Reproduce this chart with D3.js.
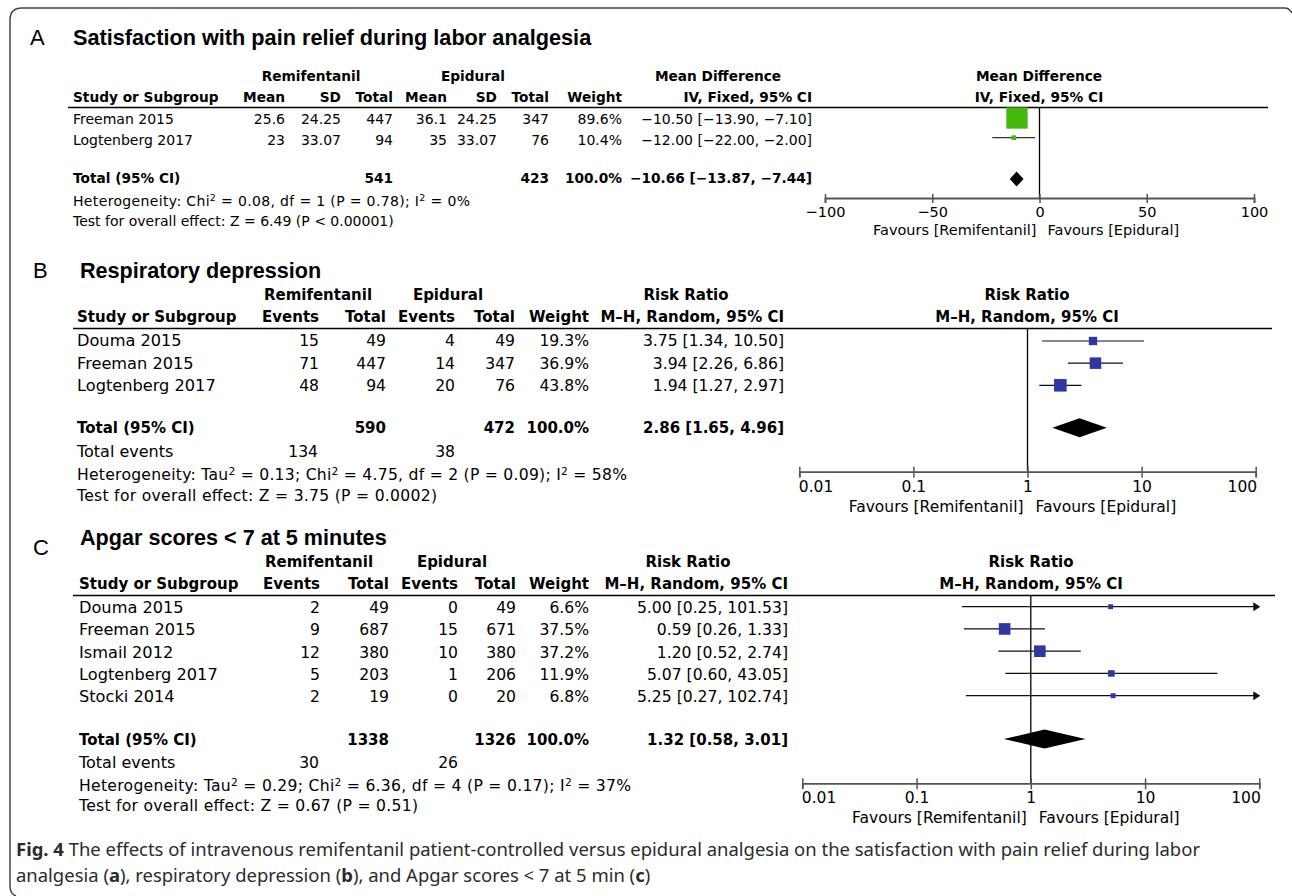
<!DOCTYPE html>
<html><head><meta charset="utf-8">
<script src="https://cdn.jsdelivr.net/npm/d3@7"></script>
<style>body{margin:0;background:#fff} svg{display:block}</style>
</head><body>
<svg id="c" width="1292" height="896"></svg>
<script>
// ---------------- DATA ----------------
// Panel A: Satisfaction with pain relief (Mean Difference, IV, Fixed)
const studiesA = ["Freeman 2015", "Logtenberg 2017"];
const remiMeanA = ["25.6", "23"];
const remiSDA = ["24.25", "33.07"];
const remiTotalA = [447, 94];
const epiMeanA = ["36.1", "35"];
const epiSDA = ["24.25", "33.07"];
const epiTotalA = [347, 76];
const weightA = [89.6, 10.4];
const estA = [-10.50, -12.00];
const lowA = [-13.90, -22.00];
const highA = [-7.10, -2.00];
const totalA = {remi: 541, epi: 423, weight: 100.0, est: -10.66, low: -13.87, high: -7.44};
const heteroA = "Heterogeneity: Chi^2 = 0.08, df = 1 (P = 0.78); I^2 = 0%";
const testA = "Test for overall effect: Z = 6.49 (P < 0.00001)";
const ticksA = [-100, -50, 0, 50, 100];

// Panel B: Respiratory depression (Risk Ratio, M-H, Random)
const studiesB = ["Douma 2015", "Freeman 2015", "Logtenberg 2017"];
const remiEventsB = [15, 71, 48];
const remiTotalB = [49, 447, 94];
const epiEventsB = [4, 14, 20];
const epiTotalB = [49, 347, 76];
const weightB = [19.3, 36.9, 43.8];
const estB = [3.75, 3.94, 1.94];
const lowB = [1.34, 2.26, 1.27];
const highB = [10.50, 6.86, 2.97];
const totalB = {remi: 590, epi: 472, weight: 100.0, est: 2.86, low: 1.65, high: 4.96, remiEv: 134, epiEv: 38};
const heteroB = "Heterogeneity: Tau^2 = 0.13; Chi^2 = 4.75, df = 2 (P = 0.09); I^2 = 58%";
const testB = "Test for overall effect: Z = 3.75 (P = 0.0002)";

// Panel C: Apgar scores < 7 at 5 minutes (Risk Ratio, M-H, Random)
const studiesC = ["Douma 2015", "Freeman 2015", "Ismail 2012", "Logtenberg 2017", "Stocki 2014"];
const remiEventsC = [2, 9, 12, 5, 2];
const remiTotalC = [49, 687, 380, 203, 19];
const epiEventsC = [0, 15, 10, 1, 0];
const epiTotalC = [49, 671, 380, 206, 20];
const weightC = [6.6, 37.5, 37.2, 11.9, 6.8];
const estC = [5.00, 0.59, 1.20, 5.07, 5.25];
const lowC = [0.25, 0.26, 0.52, 0.60, 0.27];
const highC = [101.53, 1.33, 2.74, 43.05, 102.74];
const totalC = {remi: 1338, epi: 1326, weight: 100.0, est: 1.32, low: 0.58, high: 3.01, remiEv: 30, epiEv: 26};
const heteroC = "Heterogeneity: Tau^2 = 0.29; Chi^2 = 6.36, df = 4 (P = 0.17); I^2 = 37%";
const testC = "Test for overall effect: Z = 0.67 (P = 0.51)";

const ticksRR = [0.01, 0.1, 1, 10, 100];
const tickLabelsRR = ["0.01", "0.1", "1", "10", "100"];

// ---------------- HELPERS ----------------
const svg = d3.select("#c");
const FONT = "'DejaVu Sans', Verdana, sans-serif";
const TFONT = "'Liberation Sans', Arial, sans-serif";
const fmt2 = v => (v < 0 ? "\u2212" : "") + Math.abs(v).toFixed(2);
const ciStr = (e, l, h) => `${fmt2(e)} [${fmt2(l)}, ${fmt2(h)}]`;
const pct = w => w.toFixed(1) + "%";

function T(g, x, y, s, anchor = "start", bold = false, size = null) {
  const t = g.append("text").attr("x", x).attr("y", y).attr("text-anchor", anchor)
    .attr("font-weight", bold ? "bold" : "normal").text(s);
  if (size) t.attr("font-size", size);
  return t;
}
function rich(g, x, y, str, size) {
  const t = g.append("text").attr("x", x).attr("y", y).attr("font-size", size);
  const parts = str.split(/\^(\d)/);
  let pending = 0;
  parts.forEach((p, i) => {
    if (i % 2 === 1) {
      t.append("tspan").attr("dy", -5 + pending).attr("font-size", "68%").text(p);
      pending = 5;
    } else if (p.length) {
      t.append("tspan").attr("dy", pending).text(p);
      pending = 0;
    }
  });
  return t;
}

// ---------------- FRAME ----------------
svg.append("path")
  .attr("d", "M16,896 Q10,894 10,886 L10,20 Q10,8 22,8 L1285,8 Q1289,8 1292,13")
  .attr("fill", "none").attr("stroke", "#444").attr("stroke-width", 1.5);

// ---------------- PANEL A ----------------
(function () {
  svg.append("text").attr("x", 30).attr("y", 45).attr("font-family", TFONT)
    .attr("font-size", 22).text("A");
  svg.append("text").attr("x", 73).attr("y", 45).attr("font-family", TFONT)
    .attr("font-size", 21.7).attr("font-weight", "bold")
    .text("Satisfaction with pain relief during labor analgesia");

  const R = 14.0; // regular text size
  const g = svg.append("g").attr("font-family", FONT).attr("font-size", 13.7).attr("fill", "#000");
  const cols = [285, 341, 393, 447, 497, 549, 622, 812];
  T(g, 311, 81, "Remifentanil", "middle", true);
  T(g, 473, 81, "Epidural", "middle", true);
  T(g, 718, 81, "Mean Difference", "middle", true);
  T(g, 1039, 81, "Mean Difference", "middle", true);
  T(g, 73, 102, "Study or Subgroup", "start", true);
  ["Mean", "SD", "Total", "Mean", "SD", "Total", "Weight", "IV, Fixed, 95% CI"]
    .forEach((h, i) => T(g, cols[i], 102, h, "end", true));
  T(g, 1039, 102, "IV, Fixed, 95% CI", "middle", true);

  svg.append("line").attr("x1", 68).attr("x2", 1268).attr("y1", 107.5).attr("y2", 107.5)
    .attr("stroke", "#000").attr("stroke-width", 1.3);

  const yText = d3.scaleLinear().domain([0, 1]).range([124, 145]);
  studiesA.forEach((s, i) => {
    const y = yText(i);
    T(g, 73, y, s, "start", false, R);
    const vals = [remiMeanA[i], remiSDA[i], remiTotalA[i], epiMeanA[i], epiSDA[i], epiTotalA[i],
      pct(weightA[i]), ciStr(estA[i], lowA[i], highA[i])];
    vals.forEach((v, j) => T(g, cols[j], y, v, "end", false, R));
  });
  T(g, 73, 183, "Total (95% CI)", "start", true);
  T(g, cols[2], 183, totalA.remi, "end", true);
  T(g, cols[5], 183, totalA.epi, "end", true);
  T(g, cols[6], 183, pct(totalA.weight), "end", true);
  T(g, cols[7], 183, ciStr(totalA.est, totalA.low, totalA.high), "end", true);
  rich(g, 73, 206, heteroA, R).attr("textLength", 397).attr("lengthAdjust", "spacing");
  T(g, 73, 226, testA, "start", false, R);

  // plot
  const x = d3.scaleLinear().domain([-100, 100]).range([825, 1254]);
  const axisY = 198;
  const size = d3.scalePow().exponent(0.7).domain([0, 100]).range([0, 23]);
  const yMark = d3.scaleLinear().domain([0, 1]).range([118, 137.7]);
  const p = svg.append("g");
  p.append("line").attr("x1", x(0)).attr("x2", x(0)).attr("y1", 107.5).attr("y2", axisY)
    .attr("stroke", "#000").attr("stroke-width", 1.3);
  studiesA.forEach((s, i) => {
    const y = yMark(i), sz = size(weightA[i]);
    p.append("line").attr("x1", x(lowA[i])).attr("x2", x(highA[i])).attr("y1", y).attr("y2", y)
      .attr("stroke", "#333").attr("stroke-width", 1.2);
    p.append("rect").attr("x", x(estA[i]) - sz / 2).attr("y", y - sz / 2)
      .attr("width", sz).attr("height", sz).attr("fill", "#47b80e");
  });
  const dc = 179, dh = 7.5;
  p.append("polygon").attr("points", [
    [x(totalA.low), dc], [x(totalA.est), dc - dh], [x(totalA.high), dc], [x(totalA.est), dc + dh]
  ].map(d => d.join(",")).join(" ")).attr("fill", "#000");

  const ax = p.append("g").attr("transform", `translate(0,${axisY})`)
    .call(d3.axisBottom(x).tickValues(ticksA).tickSizeOuter(0).tickSize(5)
      .tickFormat(d => d < 0 ? "\u2212" + (-d) : String(d)));
  ax.select(".domain").attr("stroke", "#555").attr("stroke-width", 1.8);
  ax.selectAll(".tick line").attr("y1", -4).attr("y2", 5).attr("stroke", "#555").attr("stroke-width", 1.5);
  ax.selectAll(".tick text").attr("y", 19).attr("dy", 0).attr("font-family", FONT)
    .attr("font-size", 14.5).attr("fill", "#000");
  p.append("text").attr("x", x(0) - 3).attr("y", 235).attr("text-anchor", "end")
    .attr("font-family", FONT).attr("font-size", 14.5).text("Favours [Remifentanil]");
  p.append("text").attr("x", x(0) + 8).attr("y", 235).attr("text-anchor", "start")
    .attr("font-family", FONT).attr("font-size", 14.5).text("Favours [Epidural]");
})();

// ---------------- PANELS B & C (Risk Ratio) ----------------
function rrPanel(cfg, d) {
  svg.append("text").attr("x", 33).attr("y", cfg.letterY).attr("font-family", TFONT)
    .attr("font-size", 22).text(cfg.letter);
  svg.append("text").attr("x", 80).attr("y", cfg.titleY).attr("font-family", TFONT)
    .attr("font-size", 21.6).attr("font-weight", "bold").text(cfg.title);

  const R = 15.6; // regular text size
  const g = svg.append("g").attr("font-family", FONT).attr("font-size", 15).attr("fill", "#000");
  const c = cfg.cols;
  T(g, cfg.h1x[0], cfg.h1Y, "Remifentanil", "middle", true);
  T(g, cfg.h1x[1], cfg.h1Y, "Epidural", "middle", true);
  T(g, cfg.h1x[2], cfg.h1Y, "Risk Ratio", "middle", true);
  T(g, cfg.plotCx, cfg.h1Y, "Risk Ratio", "middle", true);
  T(g, cfg.x0, cfg.h2Y, "Study or Subgroup", "start", true);
  ["Events", "Total", "Events", "Total", "Weight", "M\u2013H, Random, 95% CI"]
    .forEach((h, i) => T(g, c[i], cfg.h2Y, h, "end", true));
  T(g, cfg.plotCx, cfg.h2Y, "M\u2013H, Random, 95% CI", "middle", true);

  svg.append("line").attr("x1", 73).attr("x2", cfg.lineX2).attr("y1", cfg.lineY).attr("y2", cfg.lineY)
    .attr("stroke", "#000").attr("stroke-width", 1.3);

  const n = d.studies.length;
  const yText = d3.scaleLinear().domain([0, n - 1]).range(cfg.rowText);
  d.studies.forEach((s, i) => {
    const y = yText(i);
    T(g, cfg.x0, y, s, "start", false, R + 0.6);
    [d.re[i], d.rt[i], d.ee[i], d.et[i], pct(d.w[i]), ciStr(d.est[i], d.low[i], d.high[i])]
      .forEach((v, j) => T(g, c[j], y, v, "end", false, R));
  });
  T(g, cfg.x0, cfg.totalY, "Total (95% CI)", "start", true);
  T(g, c[1], cfg.totalY, d.total.remi, "end", true);
  T(g, c[3], cfg.totalY, d.total.epi, "end", true);
  T(g, c[4], cfg.totalY, pct(d.total.weight), "end", true);
  T(g, c[5], cfg.totalY, ciStr(d.total.est, d.total.low, d.total.high), "end", true);
  T(g, cfg.x0, cfg.eventsY, "Total events", "start", false, R + 0.4);
  T(g, c[0] - 1, cfg.eventsY, d.total.remiEv, "end", false, R);
  T(g, c[2], cfg.eventsY, d.total.epiEv, "end", false, R);
  rich(g, cfg.x0, cfg.heteroY, d.hetero, R).attr("textLength", cfg.heteroW).attr("lengthAdjust", "spacing");
  T(g, cfg.x0, cfg.testY, d.test, "start", false, R).attr("textLength", cfg.testW).attr("lengthAdjust", "spacing");

  // plot
  const x = d3.scaleLog().domain([0.01, 100]).range(cfg.xRange);
  const size = d3.scaleSqrt().domain([0, 100]).range([0, 19]);
  const yMark = d3.scaleLinear().domain([0, n - 1]).range(cfg.rowMark);
  const p = svg.append("g");
  p.append("line").attr("x1", x(1)).attr("x2", x(1)).attr("y1", cfg.lineY).attr("y2", cfg.axisY)
    .attr("stroke", "#000").attr("stroke-width", 1.3);
  const xmax = x.domain()[1], xmin = x.domain()[0];
  d.studies.forEach((s, i) => {
    const y = yMark(i), sz = size(d.w[i]);
    const hi = Math.min(d.high[i], xmax), lo = Math.max(d.low[i], xmin);
    p.append("line").attr("x1", x(lo)).attr("x2", x(hi) - (d.high[i] > xmax ? 3 : 0))
      .attr("y1", y).attr("y2", y).attr("stroke", "#111").attr("stroke-width", 1.2);
    if (d.high[i] > xmax) {
      const xe = x(xmax) + 1;
      p.append("polygon").attr("points", `${xe - 7},${y - 4.5} ${xe},${y} ${xe - 7},${y + 4.5}`)
        .attr("fill", "#111");
    }
    p.append("rect").attr("x", x(d.est[i]) - sz / 2).attr("y", y - sz / 2)
      .attr("width", sz).attr("height", sz).attr("fill", "#2e38a0");
  });
  const dc = cfg.diamondY, dh = 9.5;
  p.append("polygon").attr("points", [
    [x(d.total.low), dc], [x(d.total.est), dc - dh], [x(d.total.high), dc], [x(d.total.est), dc + dh]
  ].map(v => v.join(",")).join(" ")).attr("fill", "#000");

  const ax = p.append("g").attr("transform", `translate(0,${cfg.axisY})`)
    .call(d3.axisBottom(x).tickValues(ticksRR).tickSizeOuter(0).tickSize(5)
      .tickFormat((v, i) => tickLabelsRR[i]));
  ax.select(".domain").attr("stroke", "#555").attr("stroke-width", 1.8);
  ax.selectAll(".tick line").attr("y1", -5).attr("y2", 6).attr("stroke", "#555").attr("stroke-width", 1.5);
  ax.selectAll(".tick text").attr("y", 20).attr("dy", 0).attr("font-family", FONT)
    .attr("font-size", 15.5).attr("fill", "#000");
  ax.selectAll(".tick text").filter((v, i) => i === 0).attr("text-anchor", "start").attr("dx", -1);
  ax.selectAll(".tick text").filter((v, i) => i === ticksRR.length - 1).attr("text-anchor", "end").attr("dx", 1);
  p.append("text").attr("x", x(1) - 4).attr("y", cfg.axisY + 40).attr("text-anchor", "end")
    .attr("font-family", FONT).attr("font-size", 15.5).text("Favours [Remifentanil]");
  p.append("text").attr("x", x(1) + 8).attr("y", cfg.axisY + 40).attr("text-anchor", "start")
    .attr("font-family", FONT).attr("font-size", 15.5).text("Favours [Epidural]");
}

rrPanel({
  letter: "B", letterY: 278, title: "Respiratory depression", titleY: 278,
  x0: 77, h1Y: 300, h2Y: 322, lineY: 328.5, lineX2: 1272,
  h1x: [318, 448, 686], plotCx: 1027,
  cols: [319, 386, 455, 515, 589, 784],
  rowText: [346, 391], totalY: 433, eventsY: 457, heteroY: 480, testY: 501,
  heteroW: 550, testW: 360,
  xRange: [799.3, 1255.7], rowMark: [341, 385.3], diamondY: 427.7, axisY: 471.7
}, {
  studies: studiesB, re: remiEventsB, rt: remiTotalB, ee: epiEventsB, et: epiTotalB,
  w: weightB, est: estB, low: lowB, high: highB, total: totalB, hetero: heteroB, test: testB
});

rrPanel({
  letter: "C", letterY: 555, title: "Apgar scores < 7 at 5 minutes", titleY: 545,
  x0: 79, h1Y: 567, h2Y: 589, lineY: 595.5, lineX2: 1275,
  h1x: [319, 452, 688], plotCx: 1031,
  cols: [320, 389, 458, 516, 589, 788],
  rowText: [613, 702], totalY: 745, eventsY: 768, heteroY: 791, testY: 811,
  heteroW: 552, testW: 339,
  xRange: [802.3, 1259.3], rowMark: [606.7, 695.7], diamondY: 739, axisY: 783.3
}, {
  studies: studiesC, re: remiEventsC, rt: remiTotalC, ee: epiEventsC, et: epiTotalC,
  w: weightC, est: estC, low: lowC, high: highC, total: totalC, hetero: heteroC, test: testC
});

// ---------------- CAPTION ----------------
(function () {
  const g = svg.append("g").attr("font-family", "'Noto Sans', 'Open Sans', sans-serif").attr("fill", "#2b2b2b");
  const l1 = g.append("text").attr("x", 16).attr("y", 856).attr("font-size", 17);
  l1.append("tspan").attr("font-weight", "bold").text("Fig. 4");
  l1.append("tspan").text(" The effects of intravenous remifentanil patient-controlled versus epidural analgesia on the satisfaction with pain relief during labor");
  const w = l1.node().getComputedTextLength();
  const fs = 17 * 1185 / w;
  l1.attr("font-size", fs);
  const l2 = g.append("text").attr("x", 16).attr("y", 882).attr("font-size", fs);
  [["analgesia (", 0], ["a", 1], ["), respiratory depression (", 0], ["b", 1],
   ["), and Apgar scores < 7 at 5 min (", 0], ["c", 1], [")", 0]].forEach(([s, b]) =>
    l2.append("tspan").attr("font-weight", b ? "bold" : "normal").text(s));
})();
</script>
</body></html>
